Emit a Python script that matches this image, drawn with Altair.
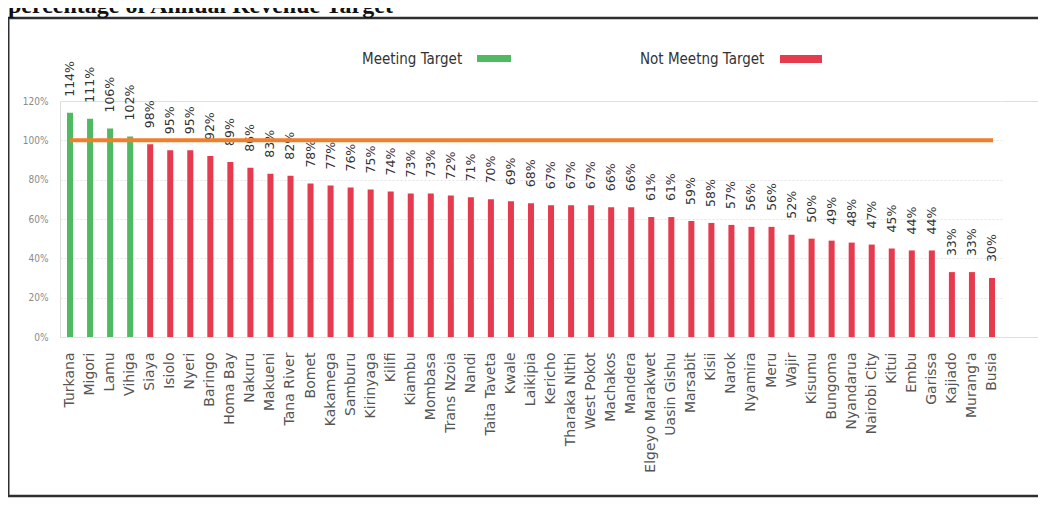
import altair as alt
import pandas as pd

counties = ["Turkana", "Migori", "Lamu", "Vihiga", "Siaya", "Isiolo", "Nyeri", "Baringo",
            "Homa Bay", "Nakuru", "Makueni", "Tana River", "Bomet", "Kakamega", "Samburu",
            "Kirinyaga", "Kilifi", "Kiambu", "Mombasa", "Trans Nzoia", "Nandi", "Taita Taveta",
            "Kwale", "Laikipia", "Kericho", "Tharaka Nithi", "West Pokot", "Machakos", "Mandera",
            "Elgeyo Marakwet", "Uasin Gishu", "Marsabit", "Kisii", "Narok", "Nyamira", "Meru",
            "Wajir", "Kisumu", "Bungoma", "Nyandarua", "Nairobi City", "Kitui", "Embu",
            "Garissa", "Kajiado", "Murang'a", "Busia"]
values = [114, 111, 106, 102, 98, 95, 95, 92, 89, 86, 83, 82, 78, 77, 76, 75, 74, 73, 73,
          72, 71, 70, 69, 68, 67, 67, 67, 66, 66, 61, 61, 59, 58, 57, 56, 56, 52, 50, 49,
          48, 47, 45, 44, 44, 33, 33, 30]
target = 100
y_ticks = [0, 20, 40, 60, 80, 100, 120]
status_names = ["Meeting Target", "Not Meetng Target"]
status_colors = ["#4fba62", "#e63a4e"]
title_text = "percentage of Annual Revenue Target"

narrow = "'DejaVu Sans Condensed', 'Liberation Sans Narrow', Roboto, sans-serif"

df = pd.DataFrame({"county": counties, "value": values})
df["label"] = [f"{v}%" for v in values]
df["status"] = [status_names[0] if v >= 100 else status_names[1] for v in values]

x_enc = alt.X("county:N", sort=counties,
              scale=alt.Scale(range=[0, 942], paddingInner=0.7, paddingOuter=0.35),
              axis=alt.Axis(title=None, labelAngle=-90, labelAlign="right", labelBaseline="middle",
                            labelPadding=15, labelFont="DejaVu Sans", labelFontSize=14,
                            labelColor="#555555", ticks=False, domain=False, labelOverlap=False,
                            grid=False))
y_scale = alt.Scale(domain=[0, 120], nice=False)
y_enc = alt.Y("value:Q", scale=y_scale,
              axis=alt.Axis(title=None, values=y_ticks, tickCount=7,
                            labelExpr="datum.value + '%'",
                            ticks=False, domain=False, labelPadding=12, labelOverlap=False,
                            labelFont=narrow, labelFontSize=10,
                            labelColor="#8a8a8a", gridColor="#e4e4e4", gridDash=[2, 2]))

base = alt.Chart(df)
bars = base.mark_bar().encode(
    x=x_enc, y=y_enc,
    color=alt.Color("status:N", scale=alt.Scale(domain=status_names, range=status_colors),
                    legend=None))
labels = base.mark_text(angle=270, align="left", baseline="middle", dx=16,
                        font="DejaVu Sans", fontSize=12.5, color="#333333").encode(
    x=alt.X("county:N", sort=counties), y=alt.Y("value:Q"), text="label:N")

one = alt.Chart(pd.DataFrame({"k": [0]}))
target_rule = one.mark_rule(color="#f07f2c", strokeWidth=4).encode(
    y=alt.datum(target), x=alt.value(10), x2=alt.value(933))

frame_color = "#2e2e2e"
frame_left = one.mark_rule(color=frame_color, strokeWidth=3).encode(
    x=alt.value(-52), y=alt.value(-83), y2=alt.value(396))
frame_top = one.mark_rule(color=frame_color, strokeWidth=2.5).encode(
    x=alt.value(-53), x2=alt.value(980), y=alt.value(-83))
frame_bottom = one.mark_rule(color=frame_color, strokeWidth=2.5).encode(
    x=alt.value(-53), x2=alt.value(980), y=alt.value(395))

title = one.mark_text(align="left", baseline="alphabetic", font="Liberation Serif",
                      fontSize=24, fontWeight="bold", color="#111111").encode(
    x=alt.value(-52), y=alt.value(-88), text=alt.value(title_text))

leg_font = dict(align="left", baseline="middle", font=narrow,
                fontSize=15, color="#333333")
leg1_text = one.mark_text(**leg_font).encode(
    x=alt.value(302), y=alt.value(-42), text=alt.value(status_names[0]))
leg1_sw = one.mark_rect(color=status_colors[0]).encode(
    x=alt.value(417), x2=alt.value(451), y=alt.value(-46), y2=alt.value(-39))
leg2_text = one.mark_text(**leg_font).encode(
    x=alt.value(580), y=alt.value(-42), text=alt.value(status_names[1]))
leg2_sw = one.mark_rect(color=status_colors[1]).encode(
    x=alt.value(720), x2=alt.value(762), y=alt.value(-46), y2=alt.value(-38))

chart = alt.layer(bars, labels, target_rule, frame_left, frame_top, frame_bottom,
                  title, leg1_text, leg1_sw, leg2_text, leg2_sw).properties(
    width=978, height=236,
    autosize=alt.AutoSizeParams(type="none"),
    padding={"left": 52, "top": 93, "right": 0, "bottom": 161},
).configure_view(stroke=None).configure(background="white")

chart.save("out.html", embed_options={"renderer": "svg", "actions": False})
